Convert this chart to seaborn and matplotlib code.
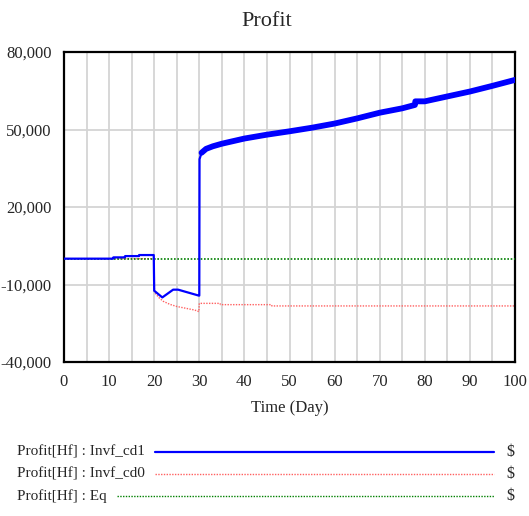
import matplotlib
matplotlib.use("Agg")
import matplotlib.pyplot as plt
import seaborn as sns
import pandas as pd
import numpy as np

# ---- data ----
blue_t = [0, 10.9, 10.95, 13.5, 13.55, 16.6, 16.65, 19.9, 20.0, 21.8, 24.2, 25.3, 29.9,
          30.0, 30.05, 30.5, 31.5, 33, 35, 40, 45, 50, 55, 60, 65, 70, 75, 77.8, 77.9,
          80, 85, 90, 95, 100]
blue_v = [0, 0, 500, 500, 1000, 1000, 1400, 1400, -12400, -15000, -12000, -12000, -14300,
          -14300, 38500, 41000, 42500, 43500, 44500, 46500, 48000, 49300, 50700, 52300,
          54300, 56500, 58200, 59500, 60900, 60900, 62800, 64700, 66900, 69200]

red_t = [0, 20.0, 20.05, 21, 22, 23.5, 25, 27, 29, 29.9, 30.0, 34.6, 34.7, 46.0, 46.1, 100]
red_v = [0, 0, -13000, -15000, -16500, -17700, -18500, -19200, -19900, -20500, -17300,
         -17300, -17800, -17800, -18300, -18300]

green_t = [0, 100]
green_v = [0, 0]

x_ticks = [0, 10, 20, 30, 40, 50, 60, 70, 80, 90, 100]
y_ticks = [-40000, -10000, 20000, 50000, 80000]
y_tick_labels = ["-40,000", "-10,000", "20,000", "50,000", "80,000"]

legend_labels = ["Profit[Hf] : Invf_cd1", "Profit[Hf] : Invf_cd0", "Profit[Hf] : Eq"]
legend_units = ["$", "$", "$"]

title = "Profit"
x_label = "Time (Day)"

# ---- plotting ----
sns.set_style("white")
plt.rcParams["font.family"] = ["Liberation Serif", "DejaVu Serif"]

W, H = 529, 516
fig = plt.figure(figsize=(W / 100, H / 100), dpi=100)
ax = fig.add_axes([64 / W, 1 - 362 / H, (515 - 64) / W, (362 - 52) / H])

blue_df = pd.DataFrame({"t": blue_t, "v": blue_v})
red_df = pd.DataFrame({"t": red_t, "v": red_v})
green_df = pd.DataFrame({"t": green_t, "v": green_v})

# gridlines
for xv in np.arange(5, 100, 5):
    ax.axvline(xv, color="#d4d4d4", lw=1.3, zorder=0)
for yv in y_ticks[1:-1]:
    ax.axhline(yv, color="#d4d4d4", lw=1.3, zorder=0)

sns.lineplot(data=red_df, x="t", y="v", ax=ax, color="#ff6060", lw=1.0,
             linestyle=(0, (1, 1)), zorder=2)
sns.lineplot(data=green_df, x="t", y="v", ax=ax, color="#008000", lw=1.2,
             linestyle=(0, (1, 1)), zorder=3)
sns.lineplot(data=blue_df, x="t", y="v", ax=ax, color="#0000ff", lw=1.6, zorder=4)
band = blue_df[blue_df["t"] >= 30.5]
sns.lineplot(data=band, x="t", y="v", ax=ax, color="#0000ff", lw=4.2, zorder=4)

ax.set_xlim(0, 100)
ax.set_ylim(-40000, 80000)
ax.set_xticks(x_ticks)
ax.set_xticklabels([str(v) for v in x_ticks], fontsize=12)
ax.set_yticks(y_ticks)
ax.set_yticklabels(y_tick_labels, fontsize=12)
ax.set_xticks(np.arange(5, 100, 10), minor=True)
ax.tick_params(axis="both", which="major", length=3, direction="in", pad=9, width=1)
ax.tick_params(axis="x", which="minor", length=2, direction="in", width=1)
ax.set_xlabel(x_label, fontsize=12, labelpad=7)
ax.set_ylabel("")
for s in ax.spines.values():
    s.set_color("black")
    s.set_linewidth(1.6)

fig.text(267 / W, 1 - 21 / H, title, ha="center", va="center", fontsize=16)

# legend area (figure pixel coords)
lax = fig.add_axes([0, 0, 1, 1], facecolor="none")
lax.set_xlim(0, W)
lax.set_ylim(H, 0)
lax.axis("off")
rows_y = [452, 474, 496]
line_x0 = [155, 155, 117]
styles = [dict(color="#0000ff", lw=1.6, linestyle="-"),
          dict(color="#ff6060", lw=1.0, linestyle=(0, (1, 1))),
          dict(color="#008000", lw=1.0, linestyle=(0, (1, 1)))]
for lab, unit, y, x0, st in zip(legend_labels, legend_units, rows_y, line_x0, styles):
    lax.text(17, y, lab, ha="left", va="center", fontsize=11)
    lax.plot([x0, 494], [y, y], **st)
    lax.text(510, y, unit, ha="center", va="center", fontsize=11.5)

fig.savefig("out.png", dpi=100)
